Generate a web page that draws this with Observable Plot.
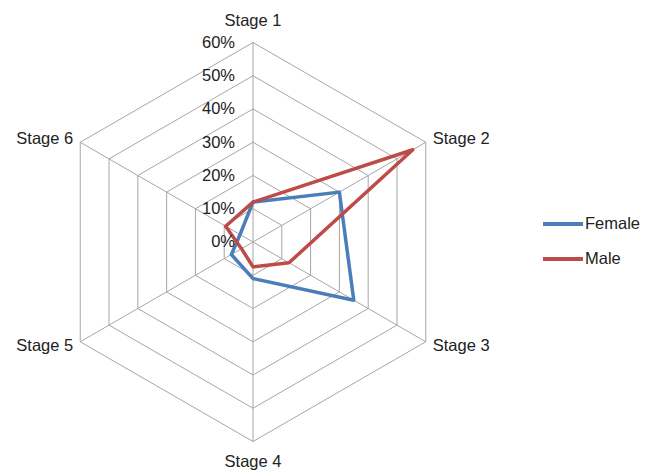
<!DOCTYPE html>
<html>
<head>
<meta charset="utf-8">
<script src="https://cdn.jsdelivr.net/npm/d3@7"></script>
<script src="https://cdn.jsdelivr.net/npm/@observablehq/plot@0.6"></script>
<style>
  html, body { margin: 0; padding: 0; background: #fff; }
  #wrap { position: relative; width: 653px; height: 470px; font-family: "Liberation Sans", Arial, sans-serif; }
  #legend { position: absolute; left: 543px; top: 206px; font-size: 16.5px; color: #222; }
  .item { display: flex; align-items: center; height: 35px; }
  .swatch { width: 40px; height: 4px; margin-right: 2px; }
</style>
</head>
<body>
<div id="wrap"></div>
<script>
const stages = ["Stage 1", "Stage 2", "Stage 3", "Stage 4", "Stage 5", "Stage 6"];
const female = [12, 30, 35, 11, 7.5, 4.5];
const male = [12, 55.5, 12.5, 7.5, 4, 9.5];
const ticks = [0, 10, 20, 30, 40, 50, 60];
const tickLabels = ["0%", "10%", "20%", "30%", "40%", "50%", "60%"];
const seriesNames = ["Female", "Male"];
const seriesColors = ["#4A7EBB", "#BE4B48"];

const W = 653, H = 470, cx = 252.5, cy = 241.5, k = 199.5 / 60;
const ang = i => i * Math.PI / 3;
const px = (r, i) => r * Math.sin(ang(i));
const py = (r, i) => r * Math.cos(ang(i));

const rings = ticks.filter(t => t > 0).flatMap(t =>
  [...stages.keys(), 0].map(i => ({t, x: px(t, i), y: py(t, i)})));
const spokes = stages.map((s, i) => ({x2: px(60, i), y2: py(60, i)}));
const closed = vals => [...vals.keys(), 0].map(i => ({x: px(vals[i], i), y: py(vals[i], i)}));
const labels = stages.map((s, i) => ({s, i, x: px(60, i), y: py(60, i)}));

const textStyle = {fontSize: 16.5, fill: "#222", fontFamily: "Liberation Sans, Arial, sans-serif"};

const chart = Plot.plot({
  width: W, height: H,
  margin: 0,
  x: {type: "linear", domain: [-cx / k, (W - cx) / k], range: [0, W], axis: null},
  y: {type: "linear", domain: [-(H - cy) / k, cy / k], range: [H, 0], axis: null},
  style: {background: "#fff", overflow: "visible"},
  marks: [
    Plot.line(rings, {x: "x", y: "y", z: "t", stroke: "#A6A6A6", strokeWidth: 1}),
    Plot.link(spokes, {x1: d => 0, y1: d => 0, x2: "x2", y2: "y2", stroke: "#A6A6A6", strokeWidth: 1}),
    Plot.line(closed(female), {x: "x", y: "y", stroke: seriesColors[0], strokeWidth: 3.5, strokeLinejoin: "round"}),
    Plot.line(closed(male), {x: "x", y: "y", stroke: seriesColors[1], strokeWidth: 3.5, strokeLinejoin: "round"}),
    Plot.text(ticks, {x: d => 0, y: d => d, text: (d, i) => tickLabels[i], textAnchor: "end", dx: -18, ...textStyle}),
    Plot.text(labels.filter(d => d.i === 0), {x: "x", y: "y", text: "s", textAnchor: "middle", dy: -22, ...textStyle}),
    Plot.text(labels.filter(d => d.i === 3), {x: "x", y: "y", text: "s", textAnchor: "middle", dy: 20, ...textStyle}),
    Plot.text(labels.filter(d => d.i === 1), {x: "x", y: "y", text: "s", textAnchor: "start", dx: 7, dy: -4, ...textStyle}),
    Plot.text(labels.filter(d => d.i === 2), {x: "x", y: "y", text: "s", textAnchor: "start", dx: 7, dy: 4, ...textStyle}),
    Plot.text(labels.filter(d => d.i === 4), {x: "x", y: "y", text: "s", textAnchor: "end", dx: -7, dy: 4, ...textStyle}),
    Plot.text(labels.filter(d => d.i === 5), {x: "x", y: "y", text: "s", textAnchor: "end", dx: -7, dy: -4, ...textStyle})
  ]
});

const wrap = document.getElementById("wrap");
wrap.appendChild(chart);
const legend = document.createElement("div");
legend.id = "legend";
seriesNames.forEach((n, i) => {
  const it = document.createElement("div");
  it.className = "item";
  const sw = document.createElement("span");
  sw.className = "swatch";
  sw.style.background = seriesColors[i];
  const tx = document.createElement("span");
  tx.textContent = n;
  it.appendChild(sw); it.appendChild(tx);
  legend.appendChild(it);
});
wrap.appendChild(legend);
</script>
</body>
</html>
